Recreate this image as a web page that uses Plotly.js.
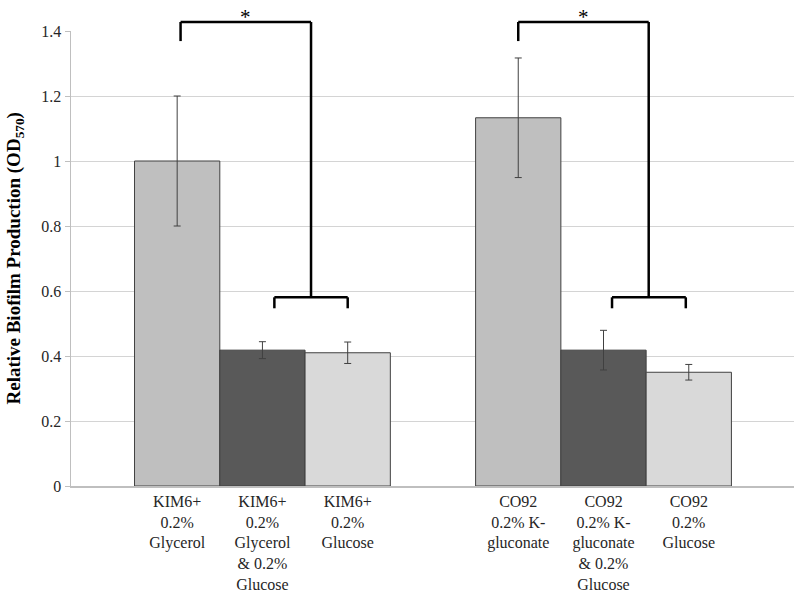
<!DOCTYPE html>
<html>
<head>
<meta charset="utf-8">
<script src="https://cdn.plot.ly/plotly-3.0.1.min.js"></script>
<style>html,body{margin:0;padding:0;background:#fff;}#chart{width:800px;height:593px;}</style>
</head>
<body>
<div id="chart"></div>
<script>
// ---- data ----
var categories = [
  "KIM6+<br>0.2%<br>Glycerol",
  "KIM6+<br>0.2%<br>Glycerol<br>& 0.2%<br>Glucose",
  "KIM6+<br>0.2%<br>Glucose",
  " ",
  "CO92<br>0.2% K-<br>gluconate",
  "CO92<br>0.2% K-<br>gluconate<br>& 0.2%<br>Glucose",
  "CO92<br>0.2%<br>Glucose"
];
var values = [1.0, 0.418, 0.41, null, 1.133, 0.418, 0.35];
var errors = [0.2, 0.026, 0.033, null, 0.184, 0.061, 0.024];
var barColors = ["#BFBFBF", "#595959", "#D9D9D9", "#FFFFFF", "#BFBFBF", "#595959", "#D9D9D9"];
var yTickVals = [0, 0.2, 0.4, 0.6, 0.8, 1, 1.2, 1.4];
var yTitle = "<b>Relative Biofilm Production (OD<sub>570</sub>)</b>";

// ---- layout constants ----
var Y_MAX = 1.4;
function yp(v) { return v / Y_MAX; }  // data y -> paper y (domain [0,1])
var SERIF = "'Liberation Serif', 'Times New Roman', serif";

var trace = {
  type: "bar",
  x: categories,
  y: values,
  marker: { color: barColors, line: { color: "#404040", width: 1 } },
  error_y: { type: "data", array: errors, visible: true, color: "#404040", thickness: 1, width: 3.5 },
  hoverinfo: "skip"
};

var lineStyle = { color: "#000000", width: 2.5 };
function seg(x0, y0, x1, y1) {
  return { type: "line", xref: "x", yref: "paper", x0: x0, x1: x1, y0: yp(y0), y1: yp(y1), line: lineStyle, layer: "above" };
}
// brackets: [leftX, joinX, lowLeftX, lowRightX]
var brackets = [[0.04, 1.57, 1.14, 2.0], [4.0, 5.53, 5.10, 5.965]];
var TOP = 1.4277, TOP_END = 1.369, LOW = 0.5806, LOW_END = 0.5468;
var shapes = [];
var annotations = [];
brackets.forEach(function (b) {
  shapes.push(seg(b[0], TOP_END, b[0], TOP));
  shapes.push(seg(b[0], TOP, b[1], TOP));
  shapes.push(seg(b[1], TOP, b[1], LOW));
  shapes.push(seg(b[2], LOW, b[3], LOW));
  shapes.push(seg(b[2], LOW_END, b[2], LOW));
  shapes.push(seg(b[3], LOW_END, b[3], LOW));
  annotations.push({
    xref: "x", yref: "paper", x: (b[0] + b[1]) / 2, y: 1.031,
    yanchor: "middle", text: "*", showarrow: false,
    font: { family: SERIF, size: 21, color: "#000" }
  });
});
// y-axis title as a rotated annotation (precise placement)
annotations.push({
  xref: "paper", yref: "paper", x: -0.0788, y: 0.5,
  xanchor: "center", yanchor: "middle", textangle: -90,
  text: yTitle, showarrow: false,
  font: { family: SERIF, size: 19, color: "#000" }
});

var layout = {
  width: 800, height: 593,
  margin: { l: 71, r: 6, t: 31, b: 107 },
  paper_bgcolor: "#ffffff", plot_bgcolor: "#ffffff",
  showlegend: false,
  bargap: 0,
  font: { family: SERIF, size: 16, color: "#262626" },
  xaxis: {
    type: "category",
    categoryorder: "array", categoryarray: categories,
    range: [-1.245, 7.234],
    showgrid: false, zeroline: false,
    showline: true, linecolor: "#BFBFBF", linewidth: 1.5,
    ticks: "", tickfont: { family: SERIF, size: 16, color: "#262626" },
    fixedrange: true
  },
  yaxis: {
    range: [0, Y_MAX],
    tickvals: yTickVals,
    showgrid: true, gridcolor: "#D4D4D4", gridwidth: 1,
    zeroline: false,
    showline: true, linecolor: "#BFBFBF", linewidth: 1.5,
    ticks: "outside", ticklen: 5, tickcolor: "#BFBFBF",
    tickfont: { family: SERIF, size: 16, color: "#262626" },
    fixedrange: true
  },
  shapes: shapes,
  annotations: annotations
};

Plotly.newPlot("chart", [trace], layout, { displayModeBar: false, staticPlot: true });
</script>
</body>
</html>
